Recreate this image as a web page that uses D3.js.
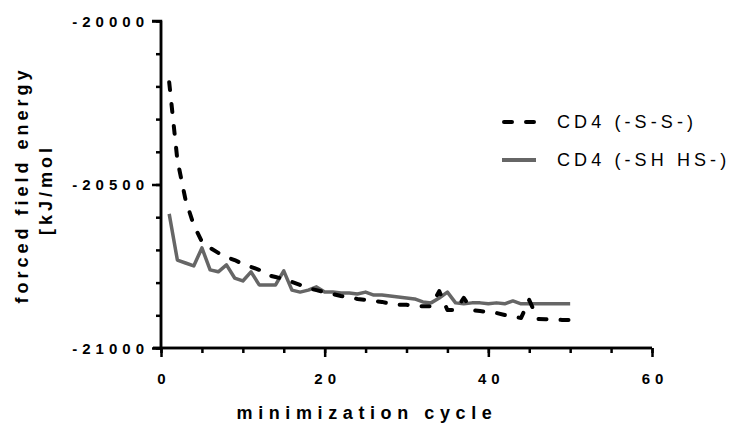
<!DOCTYPE html>
<html><head><meta charset="utf-8">
<script src="https://cdn.jsdelivr.net/npm/d3@7"></script>
<style>body{margin:0;background:#fff;} svg{display:block;font-family:"Liberation Sans",Arial,sans-serif;}</style>
</head><body>
<script>
const cycles = d3.range(1, 51);
const ssValues = [-20187,-20425,-20547,-20624,-20675,-20694,-20709,-20722,-20731,-20743,
  -20752,-20761,-20777,-20783,-20789,-20798,-20807,-20817,-20823,-20829,
  -20835,-20841,-20844,-20850,-20853,-20856,-20859,-20865,-20868,-20868,
  -20872,-20872,-20872,-20826,-20884,-20884,-20847,-20884,-20887,-20890,
  -20893,-20899,-20905,-20908,-20853,-20911,-20912,-20913,-20914,-20914];
const shValues = [-20590,-20731,-20740,-20749,-20694,-20761,-20767,-20746,-20786,-20795,
  -20767,-20807,-20807,-20807,-20764,-20823,-20829,-20823,-20813,-20829,
  -20829,-20832,-20832,-20835,-20829,-20838,-20838,-20841,-20844,-20847,
  -20850,-20859,-20862,-20847,-20829,-20862,-20865,-20862,-20862,-20865,
  -20862,-20865,-20856,-20865,-20865,-20865,-20865,-20865,-20865,-20865];
const seriesNames = ["CD4 (-S-S-)", "CD4 (-SH HS-)"];
const xTicks = [0, 20, 40, 60];
const yTicks = [-21000, -20500, -20000];
const xTitle = "minimization cycle";
const yTitle = ["forced field energy", "[kJ/mol"];

const FONT = "Liberation Sans, Arial, sans-serif";
const W = 736, H = 423;
const svg = d3.select("body").append("svg").attr("width", W).attr("height", H);
const x = d3.scaleLinear().domain([0, 60]).range([161, 652]);
const y = d3.scaleLinear().domain([-21000, -20000]).range([348, 21]);

const axW = 2.5;
const xAxisMinor = d3.axisBottom(x).tickValues(d3.range(0, 61, 5)).tickSize(5).tickFormat("");
const xAxisMajor = d3.axisBottom(x).tickValues(xTicks).tickSize(9).tickPadding(16)
  .tickFormat(d3.format("d"));
const gxm = svg.append("g").attr("transform", "translate(0,348)").call(xAxisMinor);
const gx = svg.append("g").attr("transform", "translate(0,348)").call(xAxisMajor);
[gxm, gx].forEach(g => {
  g.selectAll("path").attr("stroke", "#000").attr("stroke-width", axW);
  g.selectAll("line").attr("stroke", "#000").attr("stroke-width", 2.5);
});
gxm.select("path").attr("d", `M153,0H${x(60)}`);
gx.select("path").attr("d", `M153,0H${x(60)}`);
gx.selectAll("text").attr("font-size", 15).attr("font-weight", "bold")
  .attr("letter-spacing", 5).attr("fill", "#000").attr("dx", 2.5)
  .attr("font-family", FONT);

const yAxisMinor = d3.axisLeft(y).tickValues(d3.range(-21000, -19999, 100)).tickSize(5).tickFormat("");
const yAxisMajor = d3.axisLeft(y).tickValues(yTicks).tickSize(9).tickPadding(3)
  .tickFormat(d3.format("d"));
const gym = svg.append("g").attr("transform", "translate(161,0)").call(yAxisMinor);
const gy = svg.append("g").attr("transform", "translate(161,0)").call(yAxisMajor);
[gym, gy].forEach(g => {
  g.selectAll("path").attr("stroke", "#000").attr("stroke-width", axW);
  g.selectAll("line").attr("stroke", "#000").attr("stroke-width", 2.5);
});
gym.select("path").attr("d", `M0,${y(-20000)}V${y(-21000)+1}`);
gy.select("path").attr("d", `M-9,${y(-20000)}H0V${y(-21000)+1}`);
gy.selectAll("text").attr("font-size", 15).attr("font-weight", "bold")
  .attr("letter-spacing", 5).attr("fill", "#000").attr("dy", "0.36em")
  .attr("font-family", FONT)
  .text(d => "-" + Math.abs(d));

// lines
const line = d3.line().x((d, i) => x(cycles[i])).y(d => y(d));
svg.append("path").datum(shValues).attr("d", line).attr("fill", "none")
  .attr("stroke", "#666").attr("stroke-width", 3.5).attr("stroke-linejoin", "round");
svg.append("path").datum(ssValues).attr("d", line).attr("fill", "none")
  .attr("stroke", "#000").attr("stroke-width", 4).attr("stroke-dasharray", "8,14")
  .attr("stroke-linecap", "round").attr("stroke-linejoin", "round");

// titles
svg.append("text").attr("x", 367).attr("y", 419).attr("text-anchor", "middle")
  .attr("font-size", 18).attr("font-weight", "bold").attr("letter-spacing", 5.6)
  .text(xTitle);
svg.append("text").attr("transform", "translate(28,185) rotate(-90)").attr("text-anchor", "middle")
  .attr("font-size", 18).attr("font-weight", "bold").attr("letter-spacing", 4)
  .text(yTitle[0]);
svg.append("text").attr("transform", "translate(52,189.5) rotate(-90)").attr("text-anchor", "middle")
  .attr("font-size", 18).attr("font-weight", "bold").attr("letter-spacing", 4)
  .text(yTitle[1]);

// legend
const leg = svg.append("g");
const legY = [122, 160];
leg.append("line").attr("x1", 504).attr("x2", 534).attr("y1", legY[0]).attr("y2", legY[0])
  .attr("stroke", "#000").attr("stroke-width", 4).attr("stroke-dasharray", "8,14").attr("stroke-linecap", "round");
leg.append("line").attr("x1", 502).attr("x2", 536).attr("y1", legY[1]).attr("y2", legY[1])
  .attr("stroke", "#666").attr("stroke-width", 4);
seriesNames.forEach((n, i) => {
  leg.append("text").attr("x", 557).attr("y", legY[i] + 6.4).attr("font-size", 18)
    .attr("letter-spacing", 4.1).attr("fill", "#000").text(n);
});
</script>
</body></html>
